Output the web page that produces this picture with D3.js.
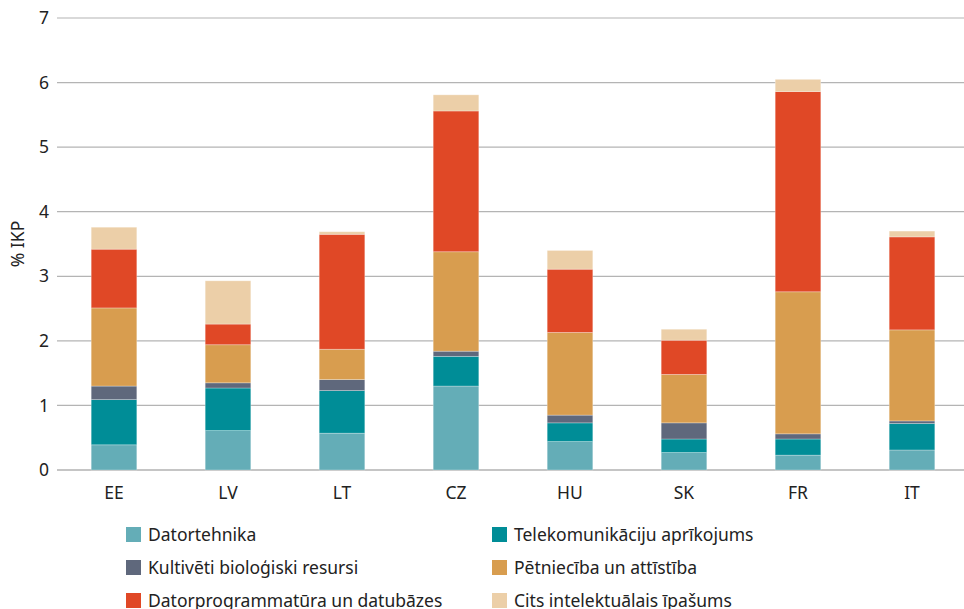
<!DOCTYPE html>
<html>
<head>
<meta charset="utf-8">
<script src="https://cdn.jsdelivr.net/npm/d3@7"></script>
<style>
  body { margin: 0; background: #fff; }
  svg { font-family: "Noto Sans", "Open Sans", sans-serif; }
</style>
</head>
<body>
<div id="wrapper"></div>
<script>
// data (% of GDP)
const countries = ["EE", "LV", "LT", "CZ", "HU", "SK", "FR", "IT"]
const seriesNames = [
  "Datortehnika",
  "Telekomunikāciju aprīkojums",
  "Kultivēti bioloģiski resursi",
  "Pētniecība un attīstība",
  "Datorprogrammatūra un datubāzes",
  "Cits intelektuālais īpašums"
]
const datortehnika = [0.39, 0.61, 0.57, 1.30, 0.44, 0.27, 0.23, 0.31]
const telekom      = [0.70, 0.66, 0.66, 0.46, 0.29, 0.21, 0.25, 0.41]
const kultiveti    = [0.21, 0.08, 0.17, 0.08, 0.12, 0.25, 0.08, 0.04]
const petnieciba   = [1.21, 0.59, 0.47, 1.54, 1.28, 0.75, 2.20, 1.41]
const programmat   = [0.91, 0.32, 1.78, 2.18, 0.98, 0.53, 3.10, 1.44]
const cits         = [0.34, 0.67, 0.04, 0.25, 0.29, 0.17, 0.19, 0.09]
const yTicks = [0, 1, 2, 3, 4, 5, 6, 7]
const colors = ["#64adb7", "#008d97", "#5f687c", "#d89d4f", "#e04826", "#eccfa8"]

const seriesValues = [datortehnika, telekom, kultiveti, petnieciba, programmat, cits]
const table = countries.map((c, i) => {
  const row = { country: c }
  seriesNames.forEach((s, j) => row[s] = seriesValues[j][i])
  return row
})

const dimensions = {
  width: 964,
  height: 609,
  margins: { top: 18, right: 0, bottom: 139, left: 57 }
}
dimensions.boundedWidth = dimensions.width - dimensions.margins.left - dimensions.margins.right
dimensions.boundedHeight = dimensions.height - dimensions.margins.top - dimensions.margins.bottom

const wrapper = d3.select("#wrapper")
  .append("svg")
  .attr("width", dimensions.width)
  .attr("height", dimensions.height)

const bounds = wrapper.append("g")
  .attr("transform", `translate(${dimensions.margins.left},${dimensions.margins.top})`)

// scales
const xScale = d3.scaleBand()
  .domain(countries)
  .range([0, 912])
  .paddingInner(0.6)
  .paddingOuter(0.3)

const yScale = d3.scaleLinear()
  .domain([0, 7])
  .range([dimensions.boundedHeight, 0])

// grid
bounds.append("g")
  .selectAll("line")
  .data(yTicks)
  .join("line")
  .attr("x1", 0)
  .attr("x2", dimensions.boundedWidth)
  .attr("y1", d => yScale(d))
  .attr("y2", d => yScale(d))
  .attr("stroke", d => d === 0 ? "#8c8c8c" : "#b4b4b4")
  .attr("stroke-width", 1.2)

// y labels
bounds.append("g")
  .selectAll("text")
  .data(yTicks)
  .join("text")
  .attr("x", -8)
  .attr("y", d => yScale(d))
  .attr("dy", "0.35em")
  .attr("text-anchor", "end")
  .attr("font-size", 17.5)
  .attr("fill", "#222")
  .text(d => d)

// y title
wrapper.append("text")
  .attr("transform", `translate(24,${dimensions.margins.top + yScale(3.5)}) rotate(-90)`)
  .attr("text-anchor", "middle")
  .attr("font-size", 17.5)
  .attr("fill", "#222")
  .text("% IKP")

// bars
const stacked = d3.stack().keys(seriesNames)(table)
bounds.append("g")
  .selectAll("g")
  .data(stacked)
  .join("g")
  .attr("fill", (d, i) => colors[i])
  .selectAll("rect")
  .data(d => d)
  .join("rect")
  .attr("x", d => xScale(d.data.country))
  .attr("width", xScale.bandwidth())
  .attr("y", d => yScale(d[1]))
  .attr("height", d => yScale(d[0]) - yScale(d[1]))
  .attr("stroke", "#fff")
  .attr("stroke-opacity", 0.35)
  .attr("stroke-width", 0.8)

// x labels
bounds.append("g")
  .selectAll("text")
  .data(countries)
  .join("text")
  .attr("x", d => xScale(d) + xScale.bandwidth() / 2)
  .attr("y", dimensions.boundedHeight + 29)
  .attr("text-anchor", "middle")
  .attr("font-size", 17.5)
  .attr("fill", "#222")
  .text(d => d)

// legend
const legend = wrapper.append("g")
legend.selectAll("g")
  .data(seriesNames)
  .join("g")
  .attr("transform", (d, i) => `translate(${i % 2 === 0 ? 126 : 492},${527 + Math.floor(i / 2) * 33})`)
  .each(function (d, i) {
    const g = d3.select(this)
    g.append("rect")
      .attr("width", 15)
      .attr("height", 15)
      .attr("fill", colors[i])
    g.append("text")
      .attr("x", 22)
      .attr("y", 7.5)
      .attr("dy", "0.35em")
      .attr("font-size", 17.5)
      .attr("fill", "#222")
      .text(d)
  })
</script>
</body>
</html>
